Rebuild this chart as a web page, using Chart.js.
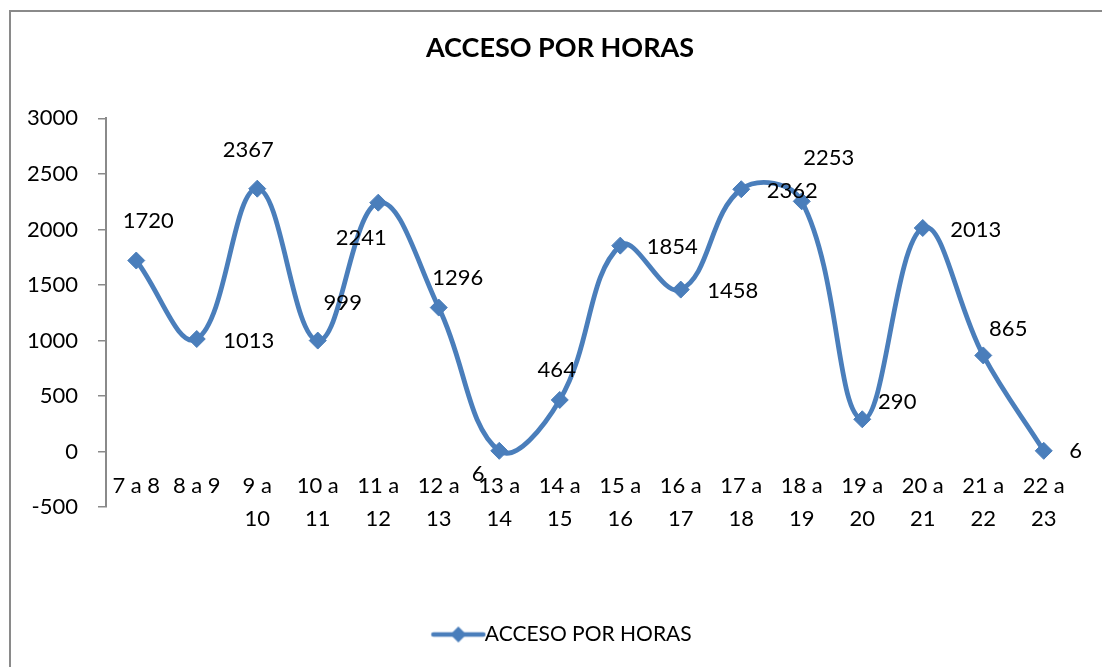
<!DOCTYPE html>
<html>
<head>
<meta charset="utf-8">
<script src="https://cdn.jsdelivr.net/npm/chart.js@4/dist/chart.umd.min.js"></script>
<style>
  html, body { margin: 0; padding: 0; background: #ffffff; overflow: hidden; width: 1102px; height: 667px; }
  #c { position: absolute; left: 9px; top: 10px; }
</style>
</head>
<body>
<canvas id="c" width="1102" height="690"></canvas>
<script>
// ---- data ----
const categories = ["7 a 8", "8 a 9", ["9 a", "10"], ["10 a", "11"], ["11 a", "12"], ["12 a", "13"],
  ["13 a", "14"], ["14 a", "15"], ["15 a", "16"], ["16 a", "17"], ["17 a", "18"], ["18 a", "19"],
  ["19 a", "20"], ["20 a", "21"], ["21 a", "22"], ["22 a", "23"]];
const accesos = [1720, 1013, 2367, 999, 2241, 1296, 6, 464, 1854, 1458, 2362, 2253, 290, 2013, 865, 6];
const seriesName = "ACCESO POR HORAS";
const chartTitle = "ACCESO POR HORAS";
const yMin = -500, yMax = 3000, yStep = 500;

// data label placement (offsets from each point, in px)
const labelDx = [12, 52, -9, 25, -17, 19, -21, -3, 52, 52, 51, 27, 35, 53, 25, 32];
const labelDy = [-40, 2, -39, -38, 35, -30, 23, -30, 1, 1, 2, -43, -17, 2, -27, 0];

const BLUE = '#4A7EBB';
const FONT = 'Lato';

// legend symbol: line with diamond (drawn in the right part of a wider transparent image)
const legendImg = document.createElement('canvas');
legendImg.width = 70; legendImg.height = 18;
(function () {
  const g = legendImg.getContext('2d');
  const o = 14;
  g.strokeStyle = BLUE; g.lineWidth = 4.5; g.lineCap = 'round';
  g.beginPath(); g.moveTo(o + 3, 9); g.lineTo(o + 53, 9); g.stroke();
  g.fillStyle = BLUE;
  g.beginPath(); g.moveTo(o + 28, 1); g.lineTo(o + 36, 9); g.lineTo(o + 28, 17); g.lineTo(o + 20, 9); g.closePath(); g.fill();
})();

const frame = {
  id: 'frame',
  beforeDraw(chart) {
    const ctx = chart.ctx;
    ctx.save();
    ctx.fillStyle = '#ffffff';
    ctx.fillRect(0, 0, chart.width, chart.height);
    ctx.strokeStyle = '#8a8a8a';
    ctx.lineWidth = 2;
    ctx.strokeRect(1, 1, chart.width + 20, chart.height + 20);
    ctx.restore();
  }
};

const dataLabels = {
  id: 'dataLabels',
  afterDatasetsDraw(chart) {
    const ctx = chart.ctx;
    const meta = chart.getDatasetMeta(0);
    ctx.save();
    ctx.font = '22px ' + FONT;
    ctx.fillStyle = '#000000';
    ctx.textAlign = 'center';
    ctx.textBaseline = 'middle';
    meta.data.forEach((pt, i) => {
      ctx.fillText(String(chart.data.datasets[0].data[i]), pt.x + labelDx[i], pt.y + labelDy[i]);
    });
    ctx.restore();
  }
};

new Chart(document.getElementById('c'), {
  type: 'line',
  data: {
    labels: categories,
    datasets: [{
      label: seriesName,
      data: accesos,
      yAxisID: 'y',
      borderColor: BLUE,
      backgroundColor: BLUE,
      borderWidth: 4.8,
      tension: 0.4,
      pointStyle: 'rectRot',
      pointRadius: 8.5,
      pointBorderWidth: 1,
      pointBackgroundColor: BLUE,
      pointBorderColor: BLUE,
      fill: false,
      clip: false
    }]
  },
  options: {
    responsive: false,
    animation: false,
    devicePixelRatio: 1,
    layout: { padding: { top: 0, left: 0, right: 0, bottom: 45 } },
    plugins: {
      title: {
        display: true,
        text: chartTitle,
        color: '#000000',
        font: { family: FONT, size: 27, weight: 'bold' },
        padding: { top: 22, bottom: 54 }
      },
      legend: {
        display: true,
        position: 'bottom',
        title: { display: true, text: '', font: { size: 10 }, padding: { top: 105, bottom: 0 } },
        labels: {
          color: '#000000',
          font: { family: FONT, size: 21 },
          usePointStyle: true,
          pointStyleWidth: 46,
          padding: 0,
          generateLabels(chart) {
            const items = Chart.defaults.plugins.legend.labels.generateLabels(chart);
            items.forEach(it => { it.pointStyle = legendImg; });
            return items;
          }
        }
      },
      tooltip: { enabled: false }
    },
    scales: {
      x: {
        type: 'category',
        offset: true,
        position: { y: 0 },
        grid: { display: false, drawTicks: false },
        border: { display: false },
        ticks: {
          color: '#000000',
          font: { family: FONT, size: 22, lineHeight: 1.5 },
          padding: 18,
          autoSkip: false,
          maxRotation: 0,
          minRotation: 0
        }
      },
      y: {
        min: yMin,
        max: yMax,
        position: 'left',
        afterFit(scale) { scale.width = 97; },
        grid: { drawOnChartArea: false, drawTicks: true, tickLength: 8, color: '#8a8a8a', lineWidth: 1.5 },
        border: { display: true, color: '#8a8a8a', width: 2 },
        ticks: {
          stepSize: yStep,
          color: '#000000',
          font: { family: FONT, size: 22 },
          padding: 20,
          callback: (v) => String(v)
        }
      },
      ySpace: {
        position: 'right',
        min: yMin,
        max: yMax,
        afterFit(scale) { scale.width = 37; },
        grid: { display: false, drawTicks: false },
        border: { display: false },
        ticks: { display: false }
      }
    }
  },
  plugins: [frame, dataLabels]
});
</script>
</body>
</html>
